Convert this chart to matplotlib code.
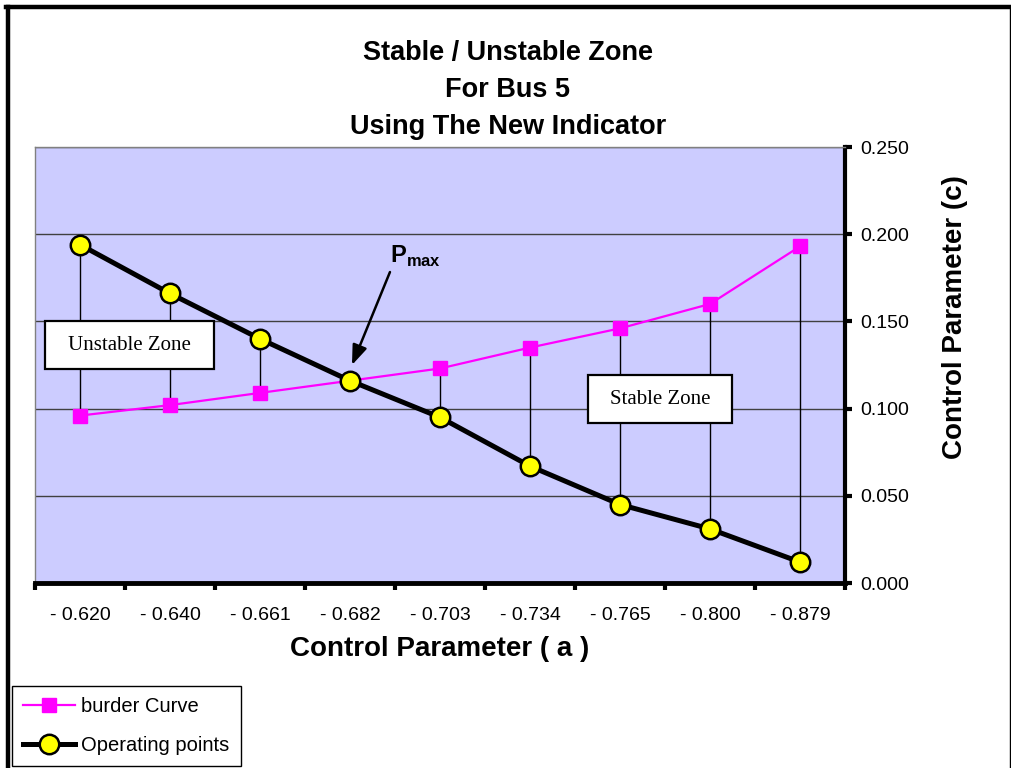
import matplotlib
matplotlib.use("Agg")
import matplotlib.pyplot as plt
from matplotlib.lines import Line2D
from matplotlib.patches import Rectangle
import numpy as np

plt.rcParams['font.family'] = ['Liberation Sans', 'DejaVu Sans']
plt.rcParams['mathtext.fontset'] = 'custom'
plt.rcParams['mathtext.bf'] = 'Liberation Sans:bold'
plt.rcParams['mathtext.rm'] = 'Liberation Sans'

# control parameter a (category labels)
a_labels = ["- 0.620", "- 0.640", "- 0.661", "- 0.682", "- 0.703",
            "- 0.734", "- 0.765", "- 0.800", "- 0.879"]
border_c = [0.096, 0.102, 0.109, 0.116, 0.123, 0.135, 0.146, 0.160, 0.193]
operating_c = [0.194, 0.166, 0.140, 0.116, 0.095, 0.067, 0.045, 0.031, 0.012]

W, H = 1012, 768
fig = plt.figure(figsize=(W / 100, H / 100), dpi=100)
ax = fig.add_axes([35 / W, 1 - 583 / H, 810 / W, 436 / H])
ax.set_facecolor('#CCCCFF')

x = np.arange(len(a_labels))

# high-low lines between the two series
ax.vlines(x, np.minimum(border_c, operating_c), np.maximum(border_c, operating_c),
          colors='black', lw=1, zorder=2)

ax.plot(x, border_c, color='#FF00FF', lw=1.6, marker='s', ms=10,
        mec='#FF00FF', mfc='#FF00FF', zorder=3, label='burder Curve')
ax.plot(x, operating_c, color='black', lw=3.6, marker='o', ms=14,
        mfc='#FFFF00', mec='black', mew=1.8, zorder=4, label='Operating points')

ax.set_xlim(-0.5, len(a_labels) - 0.5)
ax.set_ylim(0, 0.25)

# y axis on the right
ax.yaxis.tick_right()
ax.yaxis.set_label_position('right')
yt = np.arange(0, 0.2501, 0.05)
ax.set_yticks(yt)
ax.set_yticklabels([f"{v:.3f}" for v in yt], fontsize=14)
ax.tick_params(axis='y', direction='out', length=5, width=3, pad=6)
ax.set_ylabel('Control Parameter (c)', fontsize=20, fontweight='bold')
ax.yaxis.set_label_coords(1.12, 0.609)

# x ticks on category boundaries, labels on categories
ax.set_xticks(np.arange(-0.5, len(a_labels)))
ax.set_xticklabels([])
ax.set_xticks(x, minor=True)
ax.set_xticklabels(a_labels, minor=True, fontsize=14)
ax.tick_params(axis='x', which='major', direction='out', length=5, width=3)
ax.tick_params(axis='x', which='minor', length=0, pad=17)
ax.set_xlabel('Control Parameter ( a )', fontsize=20, fontweight='bold', labelpad=9)

ax.grid(axis='y', color='#404040', lw=1)
ax.set_axisbelow(True)
for side in ['left', 'top']:
    ax.spines[side].set_color('#808080')
    ax.spines[side].set_linewidth(1)
ax.spines['bottom'].set_linewidth(3.5)
ax.spines['right'].set_linewidth(3)

# zone labels in white boxes
for x0, x1, y0, y1, txt in [(-0.389, 1.489, 0.1227, 0.1502, 'Unstable Zone'),
                            (5.644, 7.244, 0.0917, 0.1193, 'Stable Zone')]:
    ax.add_patch(Rectangle((x0, y0), x1 - x0, y1 - y0, fc='white', ec='black',
                           lw=1.6, zorder=6))
    ax.text((x0 + x1) / 2, (y0 + y1) / 2, txt, family='Liberation Serif',
            fontsize=15, ha='center', va='center', zorder=7)

# Pmax arrow
ax.text(3.73, 0.187, r'$\mathbf{P}_{\mathbf{max}}$', fontsize=17,
        ha='center', va='center', zorder=7)
ax.annotate('', xy=(3.022, 0.125), xytext=(3.444, 0.1783),
            arrowprops=dict(arrowstyle='-|>,head_length=1.2,head_width=0.45',
                            color='black', lw=1.8, shrinkA=0, shrinkB=0), zorder=7)

# title
fig.text(508 / W, 1 - 90 / H, 'Stable / Unstable Zone\nFor Bus 5\nUsing The New Indicator',
         ha='center', va='center', fontsize=19.5, fontweight='bold', linespacing=1.55)

# chart frame
fig.add_artist(Line2D([8 / W, 8 / W], [0, 1 - 7 / H], color='black', lw=3.2,
                      transform=fig.transFigure))
fig.add_artist(Line2D([6.5 / W, 1010 / W], [1 - 7 / H, 1 - 7 / H], color='black', lw=3.2,
                      transform=fig.transFigure))
fig.add_artist(Line2D([1010 / W, 1010 / W], [0, 1 - 7 / H], color='black', lw=1,
                      transform=fig.transFigure))

leg = fig.legend(loc='lower left', bbox_to_anchor=(12 / W, 2 / H), fontsize=14.5,
                 frameon=True, fancybox=False, edgecolor='black', framealpha=1,
                 handlelength=2.6, handletextpad=0.3, borderpad=0.55,
                 labelspacing=1.0, borderaxespad=0)
leg.get_frame().set_linewidth(1)

fig.savefig('out.png', dpi=100)
